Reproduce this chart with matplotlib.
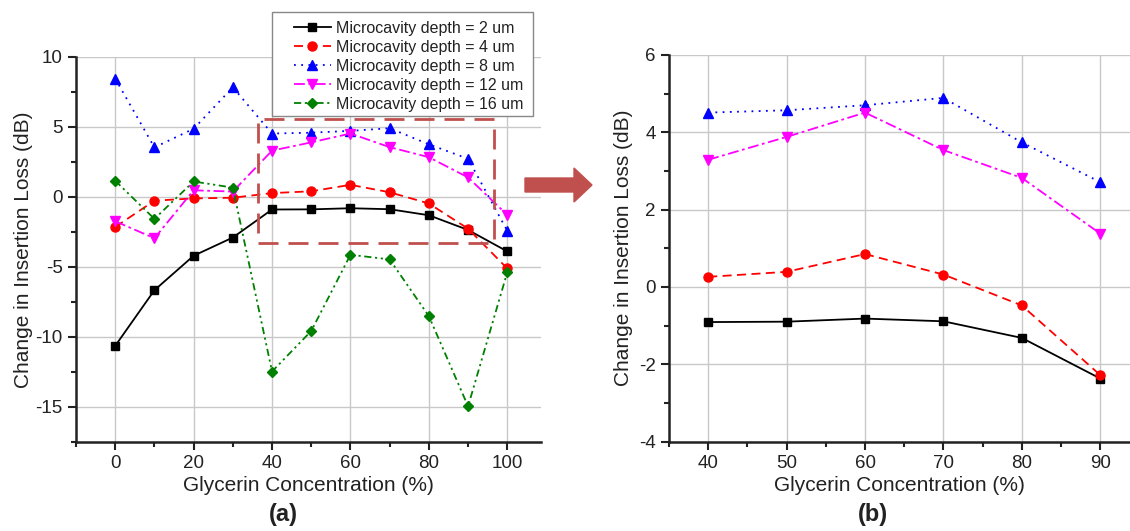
import numpy as np
import matplotlib
matplotlib.use('Agg')
import matplotlib.pyplot as plt
from matplotlib.patches import Rectangle, FancyArrow
from matplotlib.ticker import MultipleLocator

plt.rcParams['font.family'] = ['Liberation Sans', 'DejaVu Sans']
plt.rcParams['axes.unicode_minus'] = False

# ---- data ----
conc = [0, 10, 20, 30, 40, 50, 60, 70, 80, 90, 100]
depth_2um = [-10.64, -6.67, -4.21, -2.91, -0.91, -0.90, -0.82, -0.89, -1.32, -2.37, -3.90]
depth_4um = [-2.16, -0.28, -0.12, -0.07, 0.26, 0.39, 0.85, 0.32, -0.48, -2.28, -5.12]
depth_8um = [8.43, 3.52, 4.85, 7.81, 4.51, 4.57, 4.70, 4.89, 3.74, 2.71, -2.43]
depth_12um = [-1.75, -2.96, 0.46, 0.37, 3.29, 3.88, 4.51, 3.54, 2.82, 1.38, -1.30]
depth_16um = [1.14, -1.58, 1.09, 0.65, -12.47, -9.58, -4.14, -4.47, -8.52, -14.95, -5.39]

labels = ['Microcavity depth = 2 um', 'Microcavity depth = 4 um',
          'Microcavity depth = 8 um', 'Microcavity depth = 12 um',
          'Microcavity depth = 16 um']

# zoomed panel uses 40..90 %
zoom_lo, zoom_hi = 4, 10

series = [depth_2um, depth_4um, depth_8um, depth_12um, depth_16um]
styles = [
    dict(color='black', linestyle='-', marker='s'),
    dict(color='#ff0000', linestyle=(0, (5, 3)), marker='o'),
    dict(color='#0000ff', linestyle=(0, (1, 3)), marker='^'),
    dict(color='#ff00ff', linestyle=(0, (6, 2, 1.5, 2)), marker='v'),
    dict(color='#008000', linestyle=(0, (4, 2, 1.2, 2, 1.2, 2)), marker='D'),
]
msizes = [6, 6.5, 7.5, 7.5, 5.5]

W, H = 1130, 531
fig = plt.figure(figsize=(11.3, 5.31), dpi=100)
ax1 = fig.add_axes([76/W, 1-442/H, (541-76)/W, (442-56.6)/H])
ax2 = fig.add_axes([669/W, 1-441.5/H, (1130-669)/W, (441.5-55)/H])


def style_axes(ax, ypad):
    for s in ['top', 'right']:
        ax.spines[s].set_visible(False)
    for s in ['left', 'bottom']:
        ax.spines[s].set_linewidth(1.8)
        ax.spines[s].set_color('#222222')
    ax.tick_params(which='major', direction='out', length=6, width=1.5,
                   labelsize=13.5, colors='#222222')
    ax.tick_params(which='minor', direction='out', length=3.5, width=1.5,
                   colors='#222222')
    ax.grid(True, which='major', color='#c8c8c8', linewidth=1)
    ax.set_axisbelow(True)
    ax.set_xlabel('Glycerin Concentration (%)', fontsize=15, color='#222222', labelpad=3)
    ax.set_ylabel('Change in Insertion Loss (dB)', fontsize=15, color='#222222', labelpad=ypad)


handles = []
for vals, st, ms, lab in zip(series, styles, msizes, labels):
    h, = ax1.plot(conc, vals, linewidth=1.3, markersize=ms, label=lab, **st)
    handles.append(h)

for vals, st, ms in zip(series[:4], styles[:4], msizes[:4]):
    ax2.plot(conc[zoom_lo:zoom_hi], vals[zoom_lo:zoom_hi], linewidth=1.3, markersize=ms, **st)

style_axes(ax1, 2)
ax1.set_xlim(-10, 108.6)
ax1.set_ylim(-17.5, 10)
ax1.xaxis.set_major_locator(MultipleLocator(20))
ax1.xaxis.set_minor_locator(MultipleLocator(10))
ax1.yaxis.set_major_locator(MultipleLocator(5))
ax1.yaxis.set_minor_locator(MultipleLocator(2.5))

style_axes(ax2, 4)
ax2.set_xlim(35, 93.8)
ax2.set_ylim(-4, 6)
ax2.xaxis.set_major_locator(MultipleLocator(10))
ax2.xaxis.set_minor_locator(MultipleLocator(5))
ax2.yaxis.set_major_locator(MultipleLocator(2))
ax2.yaxis.set_minor_locator(MultipleLocator(1))

# dashed box marking the zoomed region
ax1.add_patch(Rectangle((36.4, -3.27), 60.2, 8.79, fill=False,
                        edgecolor='#c0504d', linewidth=2, linestyle=(0, (7.2, 3.6)),
                        zorder=5))

# legend without its own frame; frame drawn separately so the padding matches
leg = fig.legend(handles=handles, loc='upper left',
                 bbox_to_anchor=(294/W, 1-21/H), fontsize=11.5,
                 frameon=False, borderpad=0, borderaxespad=0,
                 handlelength=2.3, handletextpad=0.35, labelspacing=0.25)
for t in leg.get_texts():
    t.set_color('#222222')
fig.patches.append(Rectangle((272/W, 1-116/H), (533-272)/W, (116-12)/H,
                             fill=True, facecolor='white', edgecolor='#888888',
                             linewidth=1, transform=fig.transFigure, figure=fig,
                             zorder=0))

# arrow between the panels
fig.patches.append(FancyArrow(525/W, 1-185/H, (592-525)/W, 0,
                              width=14/H, head_width=34/H, head_length=18/W,
                              length_includes_head=True, color='#c0504d',
                              transform=fig.transFigure, figure=fig))

fig.text(283/W, 1-514/H, '(a)', fontsize=17, fontweight='bold',
         ha='center', va='center', color='#222222')
fig.text(873/W, 1-514/H, '(b)', fontsize=17, fontweight='bold',
         ha='center', va='center', color='#222222')

fig.savefig('out.png', dpi=100)
